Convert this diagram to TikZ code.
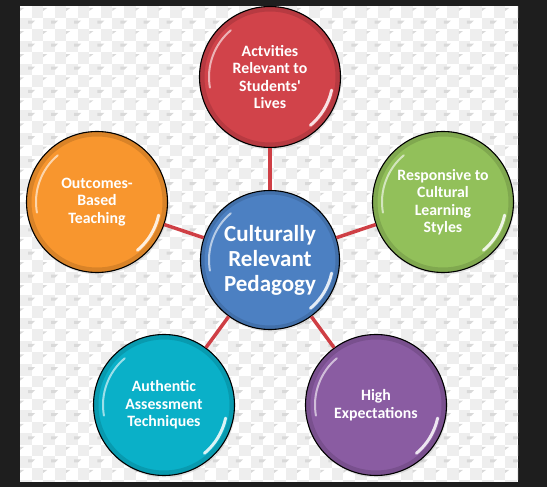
\documentclass[tikz,border=0pt]{standalone}
\usepackage{fontspec}
\setmainfont{Carlito}
\usepackage{textcomp}
\usetikzlibrary{calc,shadows}
\definecolor{CRPframe}{HTML}{1E1E1E}
\definecolor{CRPcheck}{HTML}{EEEEEE}
\definecolor{CRPmark}{HTML}{D9D9D9}
\definecolor{CRPlink}{HTML}{CF3F45}
\definecolor{CRPred}{HTML}{D1434A}
\definecolor{CRPorange}{HTML}{F8962E}
\definecolor{CRPgreen}{HTML}{92C05A}
\definecolor{CRPblue}{HTML}{4C80C2}
\definecolor{CRPcyan}{HTML}{0AB0C8}
\definecolor{CRPpurple}{HTML}{8A5CA2}
\tikzset{
  crp/bubble/.style={circle, draw=black, line width=1.1pt, fill=#1, minimum size=141pt, inner sep=0pt,
    align=center, text=white, font=\bfseries\fontsize{15.8}{17.5}\selectfont,
    drop shadow={opacity=0.2, shadow xshift=1pt, shadow yshift=-2pt},
    path picture={
      \coordinate (pc) at (path picture bounding box.center);
      \draw[black, opacity=0.12, line width=5pt] (pc) circle (68pt);
      \draw[white, opacity=0.6, line width=2pt, line cap=round] ($(pc)+(130:61pt)$) arc (130:190:61pt);
      \draw[white, opacity=0.85, line width=3pt, line cap=round] ($(pc)+(-12:63pt)$) arc (-12:-50:63pt);
    }},
  crp/hub/.style={crp/bubble=#1, minimum size=139pt, font=\bfseries\fontsize{23}{25}\selectfont},
  crp/link/.style={draw=CRPlink, line width=3.5pt}
}

\begin{document}
\begin{tikzpicture}[x=1pt, y=1pt]
  % frame and checkered backdrop
  \useasboundingbox (0,0) rectangle (547,487);
  \fill[CRPframe] (0,0) rectangle (547,487);
  \fill[white] (20,5) rectangle (518,481);
  \begin{scope}
    \clip (20,5) rectangle (518,481);
    \foreach \i in {0,...,43}{
      \foreach \j in {0,...,41}{
        \ifodd\numexpr\i+\j\relax
          \fill[CRPcheck] ({20+\i*11.55},{481-\j*11.55}) rectangle ++(11.55,-11.55);
        \fi
      }
    }
    \foreach \i in {0,2,...,42}{
      \foreach \j in {0,2,...,40}{
        \fill[CRPmark] ({20+\i*11.55},{479-\j*11.55}) -- ++(4,0) -- ++(-4,-3) -- cycle;
        \fill[CRPmark] ({28+\i*11.55},{478-(\j+1)*11.55}) -- ++(7,0) -- ++(-3,-3) -- ++(-4,0) -- cycle;
      }
    }
  \end{scope}

  % circles
  \node[crp/hub=CRPblue] (hub) at (270,227) {Culturally\\Relevant\\Pedagogy};
  \node[crp/bubble=CRPred] (activities) at (270,410) {Actvities\\Relevant to\\Students\textquotesingle\\Lives};
  \node[crp/bubble=CRPorange] (outcomes) at (97,285) {Outcomes-\\Based\\Teaching};
  \node[crp/bubble=CRPgreen] (responsive) at (443,285) {Responsive to\\Cultural\\Learning\\Styles};
  \node[crp/bubble=CRPcyan] (authentic) at (164,82) {Authentic\\Assessment\\Techniques};
  \node[crp/bubble=CRPpurple] (expect) at (376,82) {High\\Expectations};

  % links
  \draw[crp/link] (hub) -- (activities);
  \draw[crp/link] (hub) -- (outcomes);
  \draw[crp/link] (hub) -- (responsive);
  \draw[crp/link] (hub) -- (authentic);
  \draw[crp/link] (hub) -- (expect);
\end{tikzpicture}
\end{document}
